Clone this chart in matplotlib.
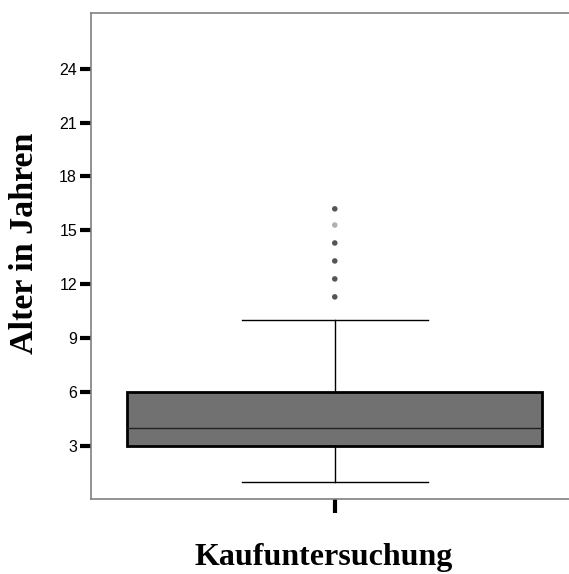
import matplotlib
matplotlib.use("Agg")
import matplotlib.pyplot as plt

# box statistics
group = "Kaufuntersuchung"
q1, median, q3 = 3.0, 4.0, 6.0
whisker_low, whisker_high = 1.0, 10.0
outliers = [11.3, 12.3, 13.3, 14.3, 15.3, 16.2]
outlier_colors = ["#555555", "#555555", "#555555", "#555555", "#b0b0b0", "#555555"]
yticks = [3, 6, 9, 12, 15, 18, 21, 24]

fig = plt.figure(figsize=(5.69, 5.74), dpi=100)
ax = fig.add_axes([91 / 569, 1 - 499 / 574, 1 - 91 / 569, (499 - 13) / 574])

stats = [{"med": median, "q1": q1, "q3": q3,
          "whislo": whisker_low, "whishi": whisker_high, "fliers": []}]
ax.bxp(stats, positions=[0.51], widths=0.868, capwidths=0.39,
       patch_artist=True, showfliers=False,
       boxprops=dict(facecolor="#717171", edgecolor="black", linewidth=2),
       medianprops=dict(color="#222222", linewidth=1),
       whiskerprops=dict(color="black", linewidth=1),
       capprops=dict(color="black", linewidth=1))

ax.scatter([0.51] * len(outliers), outliers, c=outlier_colors, s=16,
           marker="o", zorder=3, linewidths=0)

ax.set_xlim(0, 1)
ax.set_ylim(0.05, 27.1)
ax.set_yticks(yticks)
ax.set_yticklabels([str(t) for t in yticks], fontsize=11.5, family="Liberation Sans")
ax.set_xticks([0.51])
ax.set_xticklabels([""])
ax.tick_params(axis="y", length=8, width=3, color="black", pad=2)
ax.tick_params(axis="x", length=10, width=3, color="black")

for side in ["left", "top", "bottom"]:
    ax.spines[side].set_color("#808080")
    ax.spines[side].set_linewidth(1.2)
ax.spines["right"].set_visible(False)

fig.text(324 / 569, 1 - 565 / 574, group, ha="center", va="baseline",
         fontsize=23, fontweight="bold", family="Liberation Serif")
fig.text(25 / 569, 1 - 243 / 574, "Alter in Jahren", ha="center", va="center",
         rotation=90, fontsize=24.5, fontweight="bold", family="Liberation Serif")

fig.savefig("out.png", dpi=100)
